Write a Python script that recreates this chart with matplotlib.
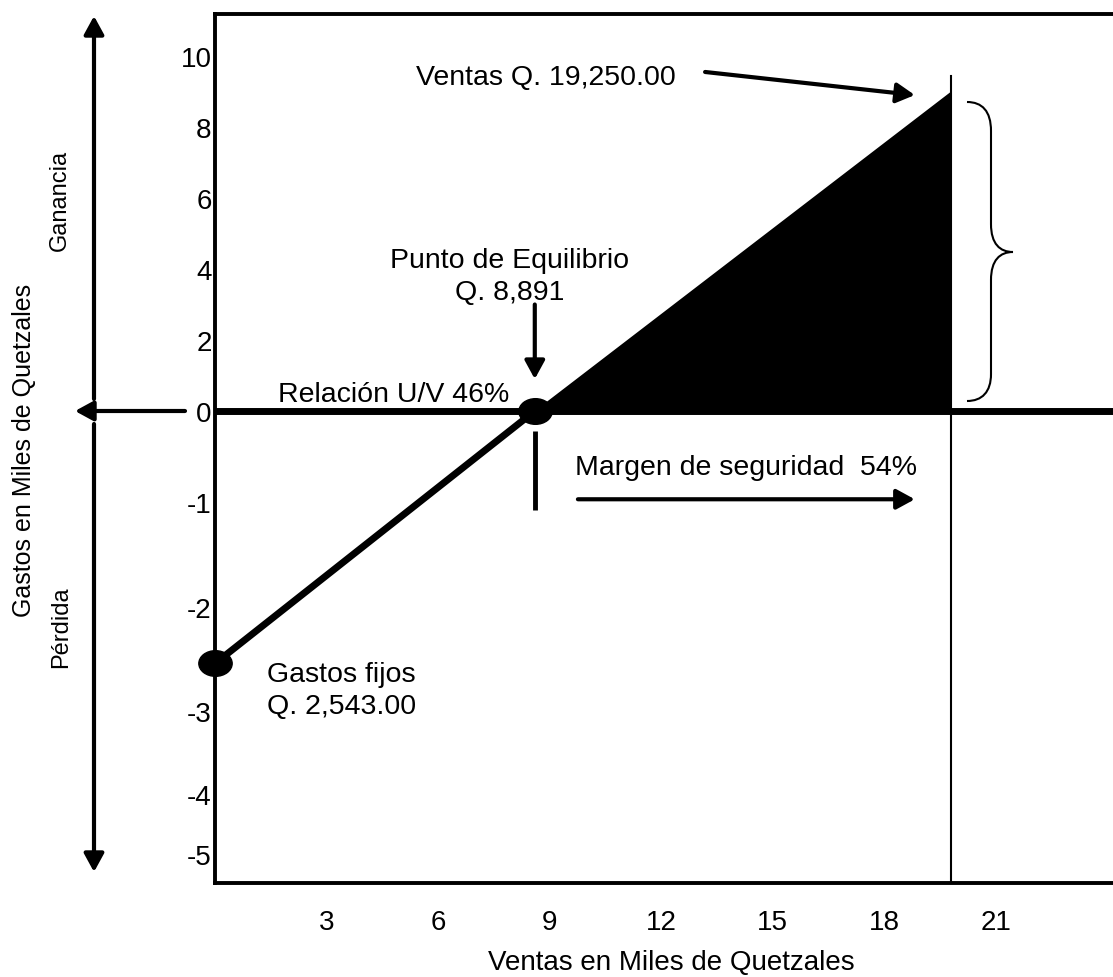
import numpy as np
import matplotlib
matplotlib.use('Agg')
import matplotlib.pyplot as plt
from matplotlib.path import Path
from matplotlib.patches import PathPatch, FancyArrowPatch

plt.rcParams['font.family'] = ['Liberation Sans', 'DejaVu Sans']

# ---------------- data (thousands of quetzales) ----------------
x_ticks = [3, 6, 9, 12, 15, 18, 21]
x_tick_labels = ['3', '6', '9', '12', '15', '18', '21']
y_ticks = [10, 8, 6, 4, 2, 0, -1, -2, -3, -4, -5]
y_tick_labels = ['10', '8', '6', '4', '2', '0', '-1', '-2', '-3', '-4', '-5']

fixed_costs = -2.543        # Gastos fijos Q. 2,543.00
break_even_x = 8.6          # Punto de equilibrio (as drawn)
sales_x = 19.8              # Ventas Q. 19,250.00 (as drawn)
sales_profit = 9.0          # height of the profit wedge at sales
sales_line_top = 9.45

# The drawn y axis is irregular below zero: value -> relative height
scale_vals = [-5.48, -5, -4, -3, -2, -1, 0, 10, 11.18]
scale_pos = [0, 29, 89, 172, 276, 381, 472, 827, 869]

W, H = 1113, 978
fig = plt.figure(figsize=(W / 100, H / 100), dpi=100)
ax = fig.add_axes([215 / W, 1 - 884 / H, (W - 215) / W, (884 - 15) / H])


def fwd(v):
    return np.interp(v, scale_vals, scale_pos)


def inv(p):
    return np.interp(p, scale_pos, scale_vals)


ax.set_yscale('function', functions=(fwd, inv))
ax.set_xlim(0, 24.15)
ax.set_ylim(scale_vals[0], scale_vals[-1])

for s in ['left', 'top', 'bottom']:
    ax.spines[s].set_linewidth(2.8)
ax.spines['right'].set_visible(False)

ax.set_xticks(x_ticks)
ax.set_xticklabels(x_tick_labels)
ax.set_yticks(y_ticks)
ax.set_yticklabels(y_tick_labels)
ax.yaxis.set_minor_locator(matplotlib.ticker.NullLocator())
ax.tick_params(axis='both', length=0, labelsize=20)
ax.tick_params(axis='x', pad=19)
ax.tick_params(axis='y', pad=2.5)

ax.set_xlabel('Ventas en Miles de Quetzales', fontsize=20, va='center')
ax.xaxis.set_label_coords((671 - 215) / 898, -(963 - 884) / 869)
ax.set_ylabel('Gastos en Miles de Quetzales', fontsize=18, va='center', ha='center')
ax.yaxis.set_label_coords((24 - 215) / 898, (884 - 450) / 869)

# zero line
ax.axhline(0, color='black', lw=5, zorder=3)
# loss line from fixed costs to break-even
ax.plot([0, break_even_x], [fixed_costs, 0], color='black', lw=5,
        solid_capstyle='butt', zorder=3)
# profit wedge
ax.fill([break_even_x, sales_x, sales_x], [0, sales_profit, 0],
        color='black', lw=0, zorder=3)
# sales vertical line
ax.plot([sales_x, sales_x], [sales_line_top, scale_vals[0]], color='black',
        lw=1.5, zorder=3)

# dots
circ = Path.unit_circle()
ellipse = Path(circ.vertices * np.array([1.3, 1.0]), circ.codes)
ax.plot([0], [fixed_costs], marker=ellipse, ms=24, color='black',
        clip_on=False, zorder=6, ls='none')
ax.plot([break_even_x], [0], marker=ellipse, ms=24, color='black',
        clip_on=False, zorder=6, ls='none')

# break-even tick below
ax.plot([break_even_x, break_even_x], [-0.22, -1.08], color='black', lw=3.5,
        solid_capstyle='butt', zorder=3)

arrow_style = '-|>,head_length=0.55,head_width=0.3'
# break-even arrow
ax.annotate('', xy=(break_even_x, 0.9), xytext=(break_even_x, 3.0),
            arrowprops=dict(arrowstyle=arrow_style, lw=3, color='black',
                            mutation_scale=20, shrinkA=0, shrinkB=0))
# margin of safety arrow
ax.annotate('', xy=(18.82, -0.97), xytext=(9.76, -0.97),
            arrowprops=dict(arrowstyle=arrow_style, lw=3, color='black',
                            mutation_scale=20, shrinkA=0, shrinkB=0))
# sales arrow
ax.annotate('', xy=(18.82, 8.9), xytext=(13.18, 9.55),
            arrowprops=dict(arrowstyle=arrow_style, lw=3, color='black',
                            mutation_scale=20, shrinkA=0, shrinkB=0))

fs = 20.5
ax.text(1.69, 0.48, 'Relación U/V 46%', fontsize=fs, ha='left', va='center')
ax.text(9.68, -0.615, 'Margen de seguridad  54%', fontsize=fs, ha='left', va='center')
ax.text(7.93, 3.8, 'Punto de Equilibrio\nQ. 8,891', fontsize=fs, ha='center',
        va='center', multialignment='center', linespacing=1.28)
ax.text(3.4, -2.80, 'Gastos fijos\nQ. 2,543.00', fontsize=fs, ha='center',
        va='center', multialignment='center', linespacing=1.28)
ax.text(5.4, 9.42, 'Ventas Q. 19,250.00', fontsize=fs, ha='left', va='center')

# ---------- elements outside the plot (figure pixels) ----------
def P(x, y):
    return (x, H - y)


def fig_arrow(p0, p1):
    fig.add_artist(FancyArrowPatch(P(*p0), P(*p1), transform=None,
                                   arrowstyle=arrow_style, mutation_scale=20,
                                   lw=3, color='black', shrinkA=0, shrinkB=0))


fig_arrow((94, 400), (94, 17))
fig_arrow((94, 425), (94, 873))
fig_arrow((185, 412), (75, 412))

fig.text(60 / W, 1 - 200 / H, 'Ganancia', rotation=90, fontsize=17,
         ha='center', va='center')
fig.text(61 / W, 1 - 627 / H, 'Pérdida', rotation=90, fontsize=17,
         ha='center', va='center')

# curly brace
verts = [P(967, 103), P(982, 103), P(991, 112), P(991, 132),
         P(991, 225),
         P(991, 245), P(1000, 253), P(1013, 253),
         P(1000, 253), P(991, 261), P(991, 281),
         P(991, 375),
         P(991, 393), P(982, 402), P(967, 402)]
codes = [Path.MOVETO, Path.CURVE4, Path.CURVE4, Path.CURVE4,
         Path.LINETO,
         Path.CURVE4, Path.CURVE4, Path.CURVE4,
         Path.CURVE4, Path.CURVE4, Path.CURVE4,
         Path.LINETO,
         Path.CURVE4, Path.CURVE4, Path.CURVE4]
fig.add_artist(PathPatch(Path(verts, codes), transform=None, fill=False,
                         lw=1.5, color='black'))

fig.savefig('out.png', dpi=100)
